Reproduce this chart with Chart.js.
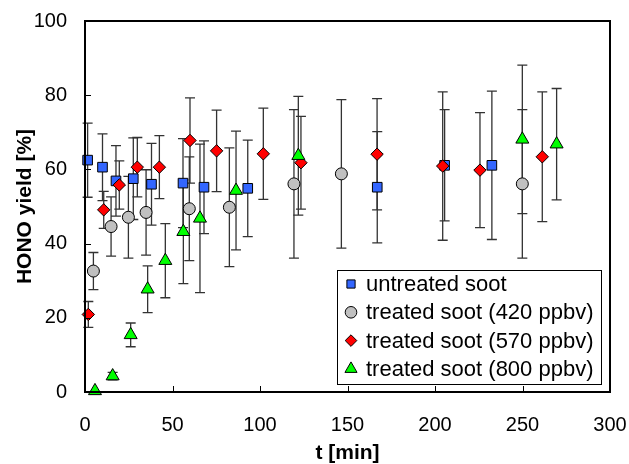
<!DOCTYPE html>
<html>
<head>
<meta charset="utf-8">
<script src="https://cdn.jsdelivr.net/npm/chart.js@4.4.1/dist/chart.umd.min.js"></script>
<style>
    body { margin: 0; background: #fff; }
    #wrap { width: 629px; height: 464px; }
</style>
</head>
<body>
<div id="wrap"><canvas id="hono" width="629" height="464"></canvas></div>
<script>
// values: time [min], HONO yield [%], error bar half-width [%]
const untreatedT   = [1.5, 10, 17.7, 27.6, 38, 56, 68, 93, 167, 205.5, 232.5];
const untreatedY   = [62.5, 60.6, 56.9, 57.5, 56, 56.3, 55.2, 54.9, 55.2, 61.1, 61.1];
const untreatedErr = [10, 9, 9.5, 11, 11, 12, 12.5, 13, 15, 15, 20];

const t420T   = [4.8, 14.9, 24.8, 34.9, 59.6, 82.5, 119.4, 146.5, 249.9];
const t420Y   = [32.6, 44.6, 47.1, 48.4, 49.4, 49.8, 56.1, 58.8, 56.1];
const t420Err = [5, 8, 11, 11.5, 14, 16, 20, 20, 20];

const t570T   = [1.9, 10.7, 19.6, 29.9, 42.5, 60, 75.2, 101.9, 123.4, 166.9, 204.4, 225.7, 261.3];
const t570Y   = [20.9, 49.1, 55.8, 60.6, 60.6, 67.8, 65, 64.2, 61.8, 64.1, 60.9, 59.8, 63.4];
const t570Err = [3.5, 5, 6.5, 8, 8.5, 11.5, 11, 12.3, 12.5, 15, 20, 15.5, 17.5];

const t800T   = [5.7, 15.8, 26.1, 35.8, 45.9, 56.2, 65.7, 86.3, 121.9, 249.9, 269.5];
const t800Y   = [0.3, 4.3, 15.4, 27.7, 35.4, 43.2, 46.8, 54.3, 63.7, 68.1, 66.8];
const t800Err = [0, 1, 3.2, 6.3, 10, 14, 20, 16, 16, 20, 15];

const seriesLabels = ['untreated soot', 'treated soot (420 ppbv)', 'treated soot (570 ppbv)', 'treated soot (800 ppbv)'];
const xTicks = [0, 50, 100, 150, 200, 250, 300];
const yTicks = [0, 20, 40, 60, 80, 100];

const FONT = "'Liberation Sans', Arial, sans-serif";

function toPoints(xs, ys) {
    return xs.map((x, i) => ({ x: x, y: ys[i] }));
}

// error bars, drawn under the markers
const errorBars = {
    id: 'errorBars',
    beforeDatasetsDraw(chart) {
        const ctx = chart.ctx;
        const xs = chart.scales.x, ys = chart.scales.y;
        ctx.save();
        ctx.strokeStyle = '#333';
        ctx.lineWidth = 1.3;
        chart.data.datasets.forEach(ds => {
            ds.data.forEach((p, i) => {
                const e = ds.errors[i];
                if (!e) return;
                const px = xs.getPixelForValue(p.x);
                const top = ys.getPixelForValue(p.y + e);
                const bot = ys.getPixelForValue(Math.max(p.y - e, 0));
                ctx.beginPath();
                ctx.moveTo(px, top); ctx.lineTo(px, bot);
                ctx.moveTo(px - 5, top); ctx.lineTo(px + 5, top);
                ctx.moveTo(px - 5, bot); ctx.lineTo(px + 5, bot);
                ctx.stroke();
            });
        });
        ctx.restore();
    }
};

function drawMarker(ctx, style, x, y, r) {
    ctx.beginPath();
    if (style === 'rect') {
        const s = r * Math.SQRT1_2;
        ctx.rect(x - s, y - s, 2 * s, 2 * s);
    } else if (style === 'circle') {
        ctx.arc(x, y, r, 0, Math.PI * 2);
    } else if (style === 'rectRot') {
        ctx.moveTo(x, y - r); ctx.lineTo(x + r, y); ctx.lineTo(x, y + r); ctx.lineTo(x - r, y);
        ctx.closePath();
    } else if (style === 'triangle') {
        ctx.moveTo(x, y - r);
        ctx.lineTo(x + r * 0.866, y + r * 0.5);
        ctx.lineTo(x - r * 0.866, y + r * 0.5);
        ctx.closePath();
    }
    ctx.fill();
    ctx.stroke();
}

// frame, inward ticks and the boxed legend inside the plot
const frameAndLegend = {
    id: 'frameAndLegend',
    afterDraw(chart) {
        const ctx = chart.ctx;
        const a = chart.chartArea;
        const xs = chart.scales.x, ys = chart.scales.y;
        ctx.save();
        ctx.strokeStyle = '#000';
        ctx.lineWidth = 1;
        ctx.beginPath();
        xTicks.forEach(v => {
            const px = Math.round(xs.getPixelForValue(v)) + 0.5;
            ctx.moveTo(px, a.bottom); ctx.lineTo(px, a.bottom - 6);
        });
        yTicks.forEach(v => {
            const py = Math.round(ys.getPixelForValue(v)) + 0.5;
            ctx.moveTo(a.left, py); ctx.lineTo(a.left + 6, py);
        });
        ctx.stroke();
        ctx.lineWidth = 2;
        ctx.strokeRect(a.left, a.top, a.right - a.left, a.bottom - a.top);

        // legend
        const lx = 337, ly = 270, lw = 264, lh = 114;
        ctx.fillStyle = '#fff';
        ctx.fillRect(lx, ly, lw, lh);
        ctx.lineWidth = 1;
        ctx.strokeRect(lx + 0.5, ly + 0.5, lw, lh);
        ctx.font = '22px ' + FONT;
        ctx.textBaseline = 'middle';
        ctx.textAlign = 'left';
        chart.data.datasets.forEach((ds, i) => {
            const cy = ly + 14 + i * 28.3;
            ctx.fillStyle = ds.backgroundColor;
            ctx.strokeStyle = '#000';
            ctx.lineWidth = 1;
            drawMarker(ctx, ds.pointStyle, lx + 14, cy, ds.pointStyle === 'triangle' ? 7 : 5.8);
            ctx.fillStyle = '#000';
            ctx.fillText(ds.label, lx + 29, cy + 1);
        });
        ctx.restore();
    }
};

new Chart(document.getElementById('hono'), {
    type: 'scatter',
    data: {
        datasets: [
            { label: seriesLabels[0], data: toPoints(untreatedT, untreatedY), errors: untreatedErr,
              pointStyle: 'rect', pointRadius: 6.8, backgroundColor: '#3366FF', order: 4 },
            { label: seriesLabels[1], data: toPoints(t420T, t420Y), errors: t420Err,
              pointStyle: 'circle', pointRadius: 6, backgroundColor: '#C0C0C0', order: 3 },
            { label: seriesLabels[2], data: toPoints(t570T, t570Y), errors: t570Err,
              pointStyle: 'rectRot', pointRadius: 6.2, backgroundColor: '#FF0000', order: 2 },
            { label: seriesLabels[3], data: toPoints(t800T, t800Y), errors: t800Err,
              pointStyle: 'triangle', pointRadius: 7.5, backgroundColor: '#00FF00', order: 1 }
        ].map(ds => Object.assign(ds, {
            borderColor: '#000',
            borderWidth: 1,
            pointHoverRadius: ds.pointRadius,
            showLine: false,
            clip: false
        }))
    },
    options: {
        responsive: false,
        animation: false,
        layout: { padding: 0 },
        plugins: {
            legend: { display: false },
            tooltip: { enabled: false }
        },
        scales: {
            x: {
                type: 'linear',
                min: 0,
                max: 300,
                afterFit: s => { s.height = 72; s.paddingLeft = 0; s.paddingRight = 19; },
                afterBuildTicks: s => { s.ticks = xTicks.map(v => ({ value: v })); },
                grid: { display: false, drawTicks: false },
                border: { display: false },
                ticks: { color: '#000', padding: 21, font: { family: FONT, size: 20 } },
                title: {
                    display: true, text: 't [min]', color: '#000',
                    padding: { top: 0, bottom: 0 },
                    font: { family: FONT, size: 21, weight: 'bold', lineHeight: 1 }
                }
            },
            y: {
                type: 'linear',
                min: 0,
                max: 100,
                afterFit: s => { s.width = 85; s.paddingTop = 21; s.paddingBottom = 0; },
                afterBuildTicks: s => { s.ticks = yTicks.map(v => ({ value: v })); },
                grid: { display: false, drawTicks: false },
                border: { display: false },
                ticks: { color: '#000', padding: 18, font: { family: FONT, size: 20 } },
                title: {
                    display: true, text: 'HONO yield [%]', color: '#000',
                    padding: { top: 13, bottom: 0 },
                    font: { family: FONT, size: 21, weight: 'bold' }
                }
            }
        }
    },
    plugins: [errorBars, frameAndLegend]
});
</script>
</body>
</html>
